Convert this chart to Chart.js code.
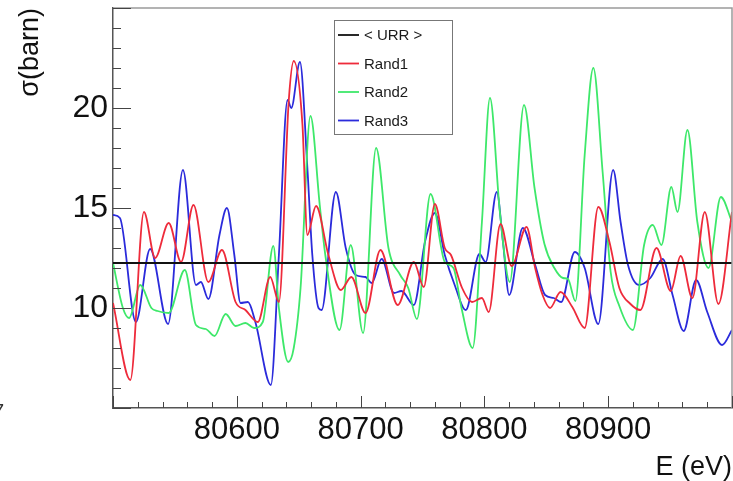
<!DOCTYPE html>
<html>
<head>
<meta charset="utf-8">
<script src="https://cdn.jsdelivr.net/npm/chart.js@4/dist/chart.umd.min.js"></script>
<style>
  html, body { margin: 0; padding: 0; background: #fff; }
  #wrap { width: 733px; height: 481px; }
</style>
</head>
<body>
<div id="wrap"><canvas id="xsChart" width="733" height="481"></canvas></div>
<script>
// Energy grid (eV) and cross sections (barn) for each curve
const urrE = [80500, 81000];
const urrSigma = [12.25, 12.25];

const rand1E = [80500, 80514, 80525, 80534, 80545, 80555, 80565, 80577, 80588, 80599,
  80607, 80617, 80627, 80634, 80642, 80646, 80653, 80657, 80664, 80674,
  80684, 80692.5, 80704, 80716, 80730, 80743, 80751, 80760, 80768, 80773,
  80782, 80790, 80798, 80803.5, 80813, 80822, 80834, 80841, 80847, 80853,
  80861.5, 80871, 80881, 80892, 80901, 80909, 80918, 80926, 80939, 80950.5,
  80958.5, 80968, 80978, 80989, 81000];
const rand1Sigma = [10.25, 6.4, 14.8, 12.5, 14.25, 12.3, 15.15, 11.3, 12.9, 10.3,
  9.9, 9.3, 11.55, 10.3, 20.4, 22.35, 19.2, 13.65, 15.1, 12.65,
  10.9, 11.55, 9.75, 12.9, 10.15, 12.3, 11.05, 15.2, 13.0, 12.65,
  11.0, 10.3, 10.5, 9.8, 14.2, 12.1, 14.05, 12.0, 10.65, 10.0,
  10.8, 10.05, 9.0, 15.05, 13.3, 11.0, 10.2, 9.9, 13.0, 10.85,
  12.6, 10.5, 14.8, 10.2, 14.8];

const rand2E = [80500, 80508, 80513, 80522, 80531, 80536, 80545, 80558, 80567, 80575,
  80582, 80591, 80599, 80607, 80614, 80621, 80629.5, 80634, 80641.5, 80646,
  80651.5, 80659.5, 80667, 80671.5, 80683, 80692, 80702, 80712.5, 80722.5, 80732,
  80738.5, 80745.5, 80756.5, 80768, 80775, 80781.5, 80790.5, 80798, 80804.5, 80812.5,
  80820.5, 80832, 80840.5, 80848.5, 80856.5, 80863.5, 80867.5, 80873.5, 80881, 80888,
  80895.5, 80902, 80909, 80920, 80929, 80936, 80943, 80951, 80956, 80964,
  80972, 80981, 80991, 81000];
const rand2Sigma = [12.25, 10.0, 9.5, 11.15, 10.0, 9.85, 9.75, 11.9, 9.15, 8.95,
  8.6, 9.7, 9.1, 9.25, 9.0, 9.3, 13.1, 10.0, 7.3, 8.0,
  11.0, 19.6, 15.15, 12.65, 8.9, 13.15, 8.75, 18.0, 13.0, 11.65,
  11.0, 9.45, 15.7, 12.3, 12.0, 10.0, 8.0, 14.3, 20.5, 14.8,
  11.3, 20.15, 16.0, 13.2, 12.0, 11.5, 11.45, 10.35, 17.65, 22.0,
  16.8, 11.8, 10.1, 8.9, 13.15, 14.15, 13.15, 16.05, 14.8, 18.9,
  14.3, 12.0, 15.55, 14.3];

const rand3E = [80500, 80505.6, 80518.5, 80530, 80544.5, 80556.5, 80567, 80571, 80577, 80586,
  80592, 80598, 80603, 80609, 80615, 80627.5, 80634, 80641, 80644, 80651,
  80657, 80661, 80666, 80668.5, 80680, 80688, 80696, 80704, 80709, 80717,
  80727, 80733, 80743, 80752, 80760, 80768, 80776, 80785, 80796, 80801,
  80810, 80815, 80820, 80831, 80841, 80849, 80856, 80862, 80873, 80881,
  80892, 80904, 80910, 80916, 80925, 80934, 80944, 80952, 80961, 80971,
  80980, 80992, 81000];
const rand3Sigma = [14.65, 14.5, 9.3, 12.95, 9.2, 16.9, 11.15, 11.3, 10.45, 13.65,
  15.0, 12.65, 10.25, 10.3, 9.3, 6.15, 12.65, 20.4, 20.0, 22.3,
  17.0, 12.65, 10.0, 9.9, 15.8, 13.0, 11.65, 11.55, 11.25, 12.45,
  10.75, 10.85, 10.15, 13.3, 14.75, 12.65, 11.15, 9.9, 12.7, 12.3,
  15.8, 13.3, 10.65, 14.0, 12.15, 10.65, 10.5, 10.3, 12.8, 12.0,
  9.2, 16.9, 14.3, 12.15, 11.15, 11.5, 12.45, 10.65, 8.85, 11.4,
  9.8, 8.15, 8.9];

const xLabels = [80600, 80700, 80800, 80900];
const yLabels = [10, 15, 20];

const FONT = '"Liberation Sans", Arial, Helvetica, sans-serif';

function toPoints(xs, ys) {
    return xs.map((x, i) => ({ x: x, y: ys[i] }));
}

function series(label, xs, ys, color) {
    return {
        label: label,
        data: toPoints(xs, ys),
        borderColor: color,
        backgroundColor: color,
        borderWidth: 1.8,
        pointRadius: 0,
        cubicInterpolationMode: 'monotone',
        fill: false
    };
}

// fixed axis box sizes, no label overhang padding
function fixBox(size, key) {
    return scale => {
        scale[key] = size;
        scale.paddingTop = 0;
        scale.paddingBottom = 0;
        scale.paddingLeft = 0;
        scale.paddingRight = 0;
    };
}

/**
 * Inward tick marks and the grey top/right frame
 */
const frameTicks = {
    id: 'frameTicks',
    afterDatasetsDraw(chart) {
        const { ctx, chartArea: a, scales: { x, y } } = chart;
        ctx.save();
        ctx.strokeStyle = '#9a9a9a';
        ctx.lineWidth = 1.5;
        ctx.beginPath();
        ctx.moveTo(a.left, a.top);
        ctx.lineTo(a.right, a.top);
        ctx.lineTo(a.right, a.bottom);
        ctx.stroke();

        ctx.strokeStyle = '#444';
        ctx.lineWidth = 1;
        ctx.beginPath();
        for (let v = y.min; v <= y.max; v += 1) {
            const py = Math.round(y.getPixelForValue(v)) + 0.5;
            const len = v % 5 === 0 ? 18 : 8;
            ctx.moveTo(a.left, py);
            ctx.lineTo(a.left + len, py);
        }
        for (let v = x.min; v <= x.max; v += 20) {
            const px = Math.round(x.getPixelForValue(v)) + 0.5;
            const len = v % 100 === 0 ? 12 : 6;
            ctx.moveTo(px, a.bottom);
            ctx.lineTo(px, a.bottom - len);
        }
        ctx.stroke();
        ctx.restore();
    }
};

/**
 * Boxed legend inside the plot
 */
const boxLegend = {
    id: 'boxLegend',
    afterDraw(chart) {
        const { ctx } = chart;
        const bx = 334, by = 20, bw = 118, bh = 114;
        ctx.save();
        ctx.fillStyle = '#fff';
        ctx.fillRect(bx, by, bw, bh);
        ctx.strokeStyle = '#777';
        ctx.lineWidth = 1;
        ctx.strokeRect(bx + 0.5, by + 0.5, bw, bh);

        ctx.font = '15px ' + FONT;
        ctx.textBaseline = 'middle';
        chart.data.datasets.forEach((ds, i) => {
            const ly = by + 15 + i * 28.5;
            ctx.strokeStyle = ds.borderColor;
            ctx.lineWidth = 1.8;
            ctx.beginPath();
            ctx.moveTo(bx + 4, ly);
            ctx.lineTo(bx + 25, ly);
            ctx.stroke();
            ctx.fillStyle = '#1a1a1a';
            ctx.fillText(ds.label, bx + 30, ly + 1);
        });

        // leftover exponent digit at the page edge
        ctx.font = '20px ' + FONT;
        ctx.fillStyle = '#333';
        ctx.fillText('7', -7, 412);
        ctx.restore();
    }
};

new Chart(document.getElementById('xsChart'), {
    type: 'line',
    data: {
        datasets: [
            series('< URR >', urrE, urrSigma, '#111111'),
            series('Rand1', rand1E, rand1Sigma, '#ee2b3b'),
            series('Rand2', rand2E, rand2Sigma, '#3ee86a'),
            series('Rand3', rand3E, rand3Sigma, '#2b2bdb')
        ]
    },
    options: {
        responsive: false,
        animation: false,
        layout: { padding: { top: 8, right: 1, left: 0, bottom: 0 } },
        plugins: {
            legend: { display: false },
            tooltip: { enabled: false }
        },
        scales: {
            x: {
                type: 'linear',
                min: 80500,
                max: 81000,
                afterBuildTicks: scale => { scale.ticks = xLabels.map(v => ({ value: v })); },
                afterFit: fixBox(73, 'height'),
                grid: { display: false, drawTicks: false },
                border: { display: true, color: '#555', width: 1.5 },
                ticks: {
                    padding: 4,
                    maxRotation: 0,
                    color: '#111',
                    font: { family: FONT, size: 31 },
                    callback: v => String(v)
                },
                title: {
                    display: true,
                    text: 'E (eV)',
                    align: 'end',
                    color: '#111',
                    font: { family: FONT, size: 27, lineHeight: 1 },
                    padding: { top: 0, bottom: 0 }
                }
            },
            y: {
                min: 5,
                max: 25,
                afterBuildTicks: scale => { scale.ticks = yLabels.map(v => ({ value: v })); },
                afterFit: fixBox(113, 'width'),
                grid: { display: false, drawTicks: false },
                border: { display: true, color: '#555', width: 1.5 },
                ticks: {
                    padding: 5,
                    color: '#111',
                    font: { family: FONT, size: 32 }
                },
                title: {
                    display: true,
                    text: 'σ(barn)',
                    align: 'end',
                    color: '#111',
                    font: { family: FONT, size: 27, lineHeight: 1 },
                    padding: { top: 17, bottom: 0 }
                }
            }
        }
    },
    plugins: [frameTicks, boxLegend]
});
</script>
</body>
</html>
